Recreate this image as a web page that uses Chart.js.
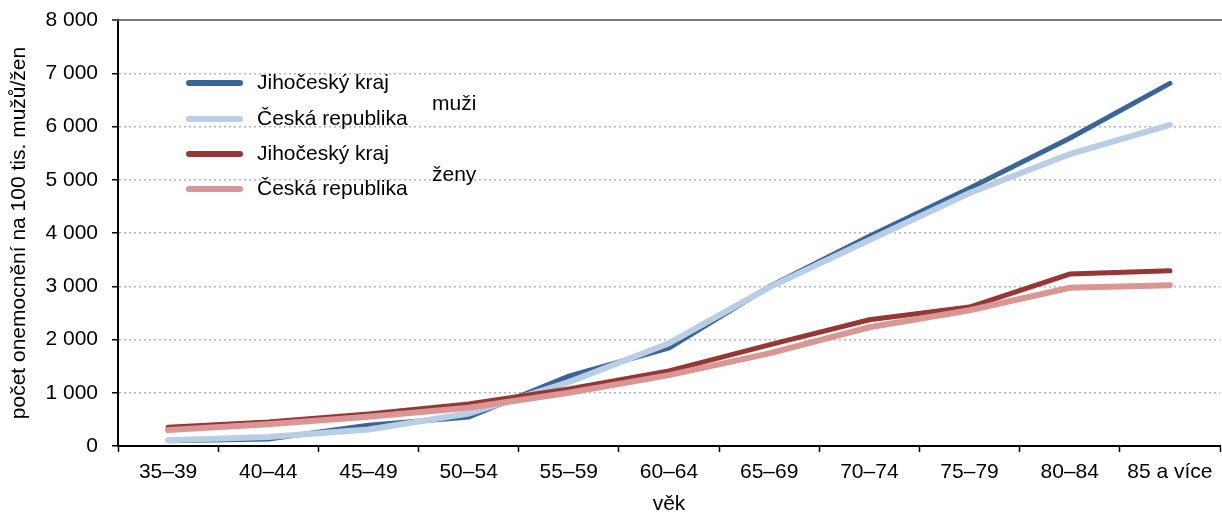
<!DOCTYPE html>
<html>
<head>
<meta charset="utf-8">
<script src="https://cdn.jsdelivr.net/npm/chart.js@4/dist/chart.umd.min.js"></script>
<style>
  html, body { margin: 0; padding: 0; background: #fff; }
  #wrap { width: 1222px; height: 515px; }
</style>
</head>
<body>
<div id="wrap"><canvas id="myChart" width="1222" height="515"></canvas></div>
<script>
// age groups and incidence per 100k
const ageGroups = ["35–39", "40–44", "45–49", "50–54", "55–59", "60–64", "65–69", "70–74", "75–79", "80–84", "85 a více"]
const jihoMuzi = [100, 130, 390, 545, 1310, 1840, 2990, 3940, 4840, 5780, 6810]
const crMuzi = [110, 170, 310, 610, 1200, 1930, 2980, 3870, 4750, 5480, 6030]
const jihoZeny = [350, 450, 600, 790, 1070, 1410, 1900, 2370, 2610, 3230, 3290]
const crZeny = [300, 410, 550, 720, 1000, 1330, 1740, 2230, 2550, 2970, 3020]
const seriesNames = ["Jihočeský kraj", "Česká republika", "Jihočeský kraj", "Česká republika"]
const groupNames = ["muži", "ženy"]

const FONT = "'Liberation Sans', Arial, sans-serif"
const colors = ["#3a6597", "#b9cde5", "#953735", "#d99694"]

function fmt(v) {
  return String(v).replace(/\B(?=(\d{3})+(?!\d))/g, " ")
}

// hand drawn legend, with group labels to the right
const legendPlugin = {
  id: "customLegend",
  afterDraw(chart) {
    const ctx = chart.ctx
    const rows = [83, 119, 154, 189]
    ctx.save()
    ctx.font = "21px " + FONT
    ctx.textBaseline = "middle"
    ctx.lineCap = "round"
    chart.data.datasets.forEach((ds, i) => {
      ctx.strokeStyle = ds.borderColor
      ctx.lineWidth = 6
      ctx.beginPath()
      ctx.moveTo(189, rows[i])
      ctx.lineTo(240, rows[i])
      ctx.stroke()
      ctx.fillStyle = "#000"
      ctx.fillText(seriesNames[i], 257, rows[i])
    })
    ctx.fillText(groupNames[0], 432, 104)
    ctx.fillText(groupNames[1], 432, 175)
    // top frame line
    const a = chart.chartArea
    ctx.strokeStyle = "#505050"
    ctx.lineWidth = 1.5
    ctx.lineCap = "butt"
    ctx.beginPath()
    ctx.moveTo(a.left - 6, a.top)
    ctx.lineTo(1222, a.top)
    ctx.stroke()
    ctx.restore()
  }
}

function makeSet(data, i, width) {
  return {
    label: seriesNames[i],
    data: data,
    borderColor: colors[i],
    backgroundColor: colors[i],
    borderWidth: width,
    pointRadius: 0,
    pointHoverRadius: 0,
    tension: 0,
    borderCapStyle: "round",
    order: 4 - i
  }
}

new Chart(document.getElementById("myChart"), {
  type: "line",
  data: {
    labels: ageGroups,
    datasets: [
      makeSet(jihoMuzi, 0, 5),
      makeSet(crMuzi, 1, 6),
      makeSet(jihoZeny, 2, 5),
      makeSet(crZeny, 3, 6)
    ]
  },
  options: {
    responsive: false,
    animation: false,
    layout: { padding: { top: 20, right: 2, left: 0, bottom: 0 } },
    plugins: {
      legend: { display: false },
      tooltip: { enabled: false }
    },
    scales: {
      x: {
        offset: true,
        grid: {
          offset: true,
          drawOnChartArea: false,
          drawTicks: true,
          tickLength: 6,
          tickColor: "#000",
          tickWidth: 1.5
        },
        border: { color: "#000", width: 2 },
        ticks: {
          color: "#000",
          font: { family: FONT, size: 21 },
          padding: 8,
          maxRotation: 0,
          autoSkip: false
        },
        title: {
          display: true,
          text: "věk",
          color: "#000",
          font: { family: FONT, size: 21, lineHeight: 1 },
          padding: { top: 0, bottom: 0 }
        },
        afterFit(scale) {
          scale.height = 69
          scale.paddingLeft = 0
          scale.paddingRight = 0
        }
      },
      y: {
        min: 0,
        max: 8000,
        ticks: {
          stepSize: 1000,
          color: "#000",
          font: { family: FONT, size: 21 },
          padding: 14,
          callback: (v) => fmt(v)
        },
        grid: {
          color: (c) => (c.tick && (c.tick.value === 0 || c.tick.value === 8000)) ? "rgba(0,0,0,0)" : "#b4b4b4",
          lineWidth: 1.5,
          drawTicks: true,
          tickLength: 6,
          tickColor: "#000",
          tickWidth: 1.5,
          tickBorderDash: []
        },
        border: { color: "#000", width: 2, dash: [2, 3] },
        title: {
          display: true,
          text: "počet onemocnění na 100 tis. mužů/žen",
          color: "#000",
          font: { family: FONT, size: 21 },
          padding: { top: 7, bottom: 0 }
        },
        afterFit(scale) {
          scale.width = 118
          scale.paddingTop = 0
          scale.paddingBottom = 0
        }
      }
    }
  },
  plugins: [legendPlugin]
})
</script>
</body>
</html>
